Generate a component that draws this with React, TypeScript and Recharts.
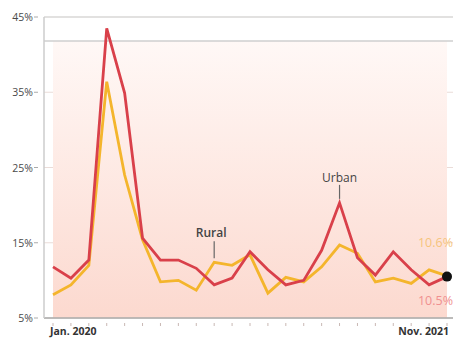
import React from "react";
import {
  LineChart,
  Line,
  XAxis,
  YAxis,
  CartesianGrid,
  ReferenceArea,
  ReferenceLine,
} from "recharts";

// Monthly unemployment rate, Jan. 2020 – Nov. 2021
const months = [
  "Jan. 2020", "Feb. 2020", "Mar. 2020", "Apr. 2020", "May 2020", "Jun. 2020",
  "Jul. 2020", "Aug. 2020", "Sep. 2020", "Oct. 2020", "Nov. 2020", "Dec. 2020",
  "Jan. 2021", "Feb. 2021", "Mar. 2021", "Apr. 2021", "May 2021", "Jun. 2021",
  "Jul. 2021", "Aug. 2021", "Sep. 2021", "Oct. 2021", "Nov. 2021",
];

const urban = [
  11.8, 10.3, 12.7, 43.5, 34.9, 15.6, 12.7, 12.7, 11.6, 9.4, 10.3, 13.8,
  11.4, 9.4, 10.0, 14.0, 20.3, 13.0, 10.7, 13.8, 11.4, 9.4, 10.5,
];

const rural = [
  8.1, 9.4, 12.0, 36.4, 24.0, 15.4, 9.8, 10.0, 8.7, 12.4, 12.0, 13.4,
  8.3, 10.4, 9.8, 11.8, 14.7, 13.6, 9.8, 10.3, 9.6, 11.4, 10.6,
];

const yTicks = [5, 15, 25, 35, 45];
const shadedTop = 41.8;

const data = months.map((m, i) => ({ month: m, urban: urban[i], rural: rural[i] }));

const FONT = "'Open Sans', 'Noto Sans', sans-serif";
const URBAN = "#d9404a";
const RURAL = "#f4b52c";
const LAST = months.length - 1;

const XTick = (props: any) => {
  const { x, y, index } = props;
  let label: React.ReactNode = null;
  if (index === 0) {
    label = (
      <text x={x - 3} y={y + 9} textAnchor="start" fontSize={10.5} fontWeight={700} fill="#333" fontFamily={FONT}>
        {months[0]}
      </text>
    );
  } else if (index === LAST) {
    label = (
      <text x={x + 2} y={y + 9} textAnchor="end" fontSize={10.5} fontWeight={700} fill="#333" fontFamily={FONT}>
        {months[LAST]}
      </text>
    );
  }
  return (
    <g>
      <line x1={x} x2={x} y1={y - 3} y2={y} stroke="#c9b8b4" />
      {label}
    </g>
  );
};

const YTick = (props: any) => {
  const { x, y, payload } = props;
  return (
    <g>
      <line x1={x - 2} x2={x + 2} y1={y} y2={y} stroke="#aaa" />
      <text x={x - 3} y={y + 4} textAnchor="end" fontSize={10.5} fill="#4a4a4a" fontFamily={FONT}>
        {`${payload.value}%`}
      </text>
    </g>
  );
};

const urbanLabel = (props: any) => {
  const { x, y, index } = props;
  if (index === 16) {
    return (
      <g>
        <line x1={x} x2={x} y1={y - 4} y2={y - 18} stroke="#666" strokeWidth={1.2} />
        <text x={x} y={y - 21} textAnchor="middle" fontSize={12} fill="#444" fontFamily={FONT}>
          Urban
        </text>
      </g>
    );
  }
  if (index === LAST) {
    return (
      <g>
        <circle cx={x} cy={y} r={5} fill="#111" />
        <text x={x + 6} y={y + 28} textAnchor="end" fontSize={12.5} fill="#f09090" fontFamily={FONT}>
          10.5%
        </text>
      </g>
    );
  }
  return null;
};

const ruralLabel = (props: any) => {
  const { x, y, index } = props;
  if (index === 9) {
    return (
      <g>
        <line x1={x} x2={x} y1={y - 4} y2={y - 21} stroke="#666" strokeWidth={1.2} />
        <text x={x - 3} y={y - 25} textAnchor="middle" fontSize={12} fontWeight={600} fill="#444" fontFamily={FONT}>
          Rural
        </text>
      </g>
    );
  }
  if (index === LAST) {
    return (
      <text x={x + 6} y={y - 29} textAnchor="end" fontSize={12.5} fill="#f6c47c" fontFamily={FONT}>
        10.6%
      </text>
    );
  }
  return null;
};

export default function App() {
  return (
    <div style={{ position: "absolute", left: 0, top: 0, width: 453, height: 338, background: "#fff" }}>
      <LineChart
        width={453}
        height={338}
        data={data}
        margin={{ top: 17, right: 0, bottom: 0, left: 0 }}
      >
        <defs>
          <linearGradient id="bandFill" x1="0" y1="0" x2="0" y2="1">
            <stop offset="0%" stopColor="#fff8f6" />
            <stop offset="100%" stopColor="#fcd9cf" />
          </linearGradient>
        </defs>
        <ReferenceArea y1={5} y2={shadedTop} fill="url(#bandFill)" fillOpacity={1} stroke="none" ifOverflow="visible" />
        <CartesianGrid horizontal vertical={false} stroke="#eadcd8" strokeWidth={1.2} />
        <ReferenceLine y={45} stroke="#dcdcdc" strokeWidth={1.5} />
        <ReferenceLine y={shadedTop} stroke="#cfcfcf" strokeWidth={1.5} />
        <XAxis
          dataKey="month"
          height={20}
          padding={{ left: 9, right: 6 }}
          interval={0}
          axisLine={{ stroke: "#aaa", strokeWidth: 1.5 }}
          tickLine={false}
          tick={<XTick />}
        />
        <YAxis
          width={44}
          domain={[5, 45]}
          ticks={yTicks}
          type="number"
          allowDataOverflow
          axisLine={{ stroke: "#ccc", strokeWidth: 1.5 }}
          tickLine={false}
          tick={<YTick />}
        />
        <Line
          type="linear"
          dataKey="rural"
          stroke={RURAL}
          strokeWidth={2.8}
          dot={false}
          isAnimationActive={false}
          label={ruralLabel}
        />
        <Line
          type="linear"
          dataKey="urban"
          stroke={URBAN}
          strokeWidth={2.8}
          dot={false}
          isAnimationActive={false}
          label={urbanLabel}
        />
      </LineChart>
    </div>
  );
}
